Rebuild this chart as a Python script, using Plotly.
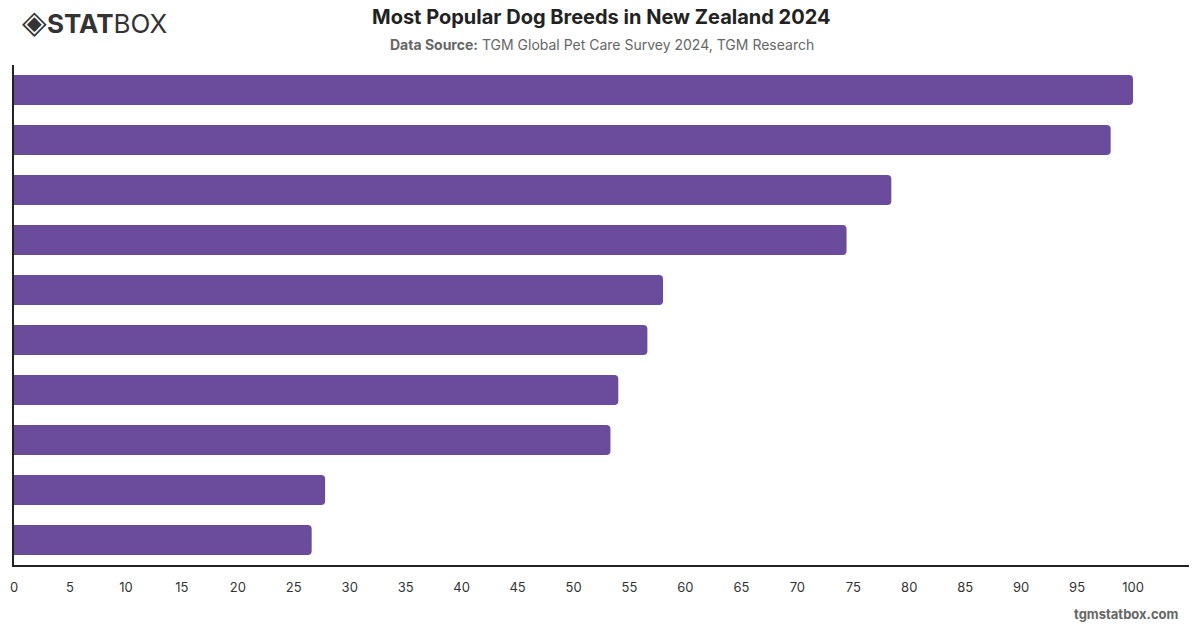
import plotly.graph_objects as go

categories = ["Breed 1", "Breed 2", "Breed 3", "Breed 4", "Breed 5",
              "Breed 6", "Breed 7", "Breed 8", "Breed 9", "Breed 10"]
values = [100, 98.0, 78.4, 74.4, 58.0, 56.6, 54.0, 53.3, 27.8, 26.6]
tick_vals = list(range(0, 101, 5))
tick_text = [str(v) for v in tick_vals]

BAR = "#6A4B9C"
FONT = "Inter, 'Open Sans', sans-serif"

fig = go.Figure(go.Bar(
    x=values, y=categories, orientation="h",
    marker=dict(color=BAR, cornerradius=4, line=dict(width=0)),
    hoverinfo="x",
))

fig.update_layout(
    width=1200, height=628,
    margin=dict(l=10, r=11, t=65, b=63),
    paper_bgcolor="white", plot_bgcolor="white",
    bargap=0.4, showlegend=False,
    font=dict(family=FONT, size=13, color="#333"),
    xaxis=dict(range=[0, 105.0], tickvals=tick_vals, ticktext=tick_text,
               showgrid=False, zeroline=False, showline=True,
               linecolor="#222", linewidth=1.5, ticks="",
               ticklabelstandoff=10,
               tickfont=dict(size=13, color="#333", family=FONT)),
    yaxis=dict(autorange="reversed", showticklabels=False, showgrid=False,
               zeroline=False, showline=True, linecolor="#222", linewidth=1.5,
               ticks="", automargin=False),
)

fig.add_annotation(text="<b>Most Popular Dog Breeds in New Zealand 2024</b>",
                   xref="paper", yref="paper", x=0.5, y=1, xanchor="center", yanchor="middle",
                   yshift=65 - 17, showarrow=False,
                   font=dict(size=20, color="#222", family=FONT))
fig.add_annotation(text="<b>Data Source:</b> TGM Global Pet Care Survey 2024, TGM Research",
                   xref="paper", yref="paper", x=0.5, y=1, xanchor="center", yanchor="middle",
                   yshift=65 - 44, showarrow=False,
                   font=dict(size=14, color="#666", family=FONT))
fig.add_annotation(text="<span style='font-size:32px'>◈</span><b>STAT</b>BOX",
                   xref="paper", yref="paper", x=0, y=1, xanchor="left", yanchor="middle",
                   xshift=6, yshift=65 - 21, showarrow=False,
                   font=dict(size=26, color="#333", family=FONT))
fig.add_annotation(text="<b>tgmstatbox.com</b>",
                   xref="paper", yref="paper", x=1, y=0, xanchor="right", yanchor="middle",
                   xshift=-8, yshift=-(614 - 565), showarrow=False,
                   font=dict(size=13, color="#666", family=FONT))

fig.write_html("out.html")
